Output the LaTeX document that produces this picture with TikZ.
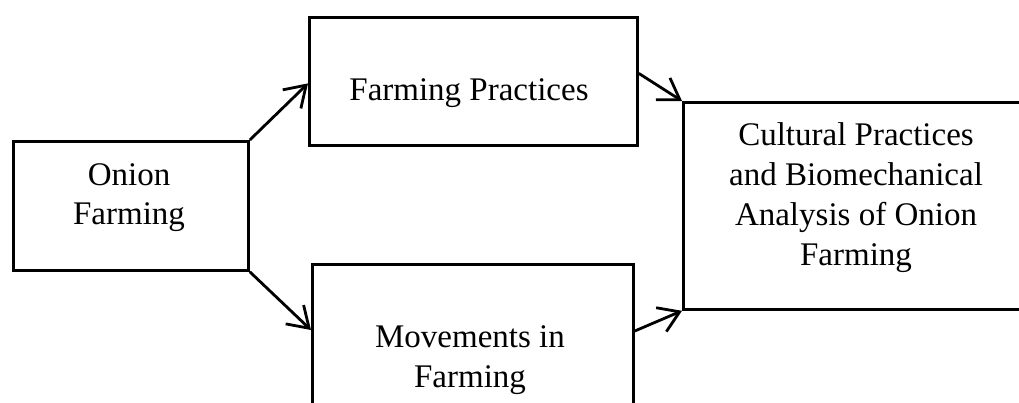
\documentclass[tikz,border=0pt]{standalone}
\usepackage{fontspec}
\setmainfont{Liberation Serif}
\usetikzlibrary{arrows.meta,calc}
\begin{document}
\begin{tikzpicture}[x=1pt,y=-1pt,
  box/.style={draw=black,line width=2.8pt,fill=none,inner sep=0pt,anchor=north west},
  lbl/.style={font=\fontsize{33}{40}\selectfont,align=center,anchor=base,inner sep=0pt},
  conn/.style={line width=2.8pt,-{Straight Barb[length=20pt,width=26pt]}}]
\useasboundingbox (0,0) rectangle (1019,402);
\clip (0,0) rectangle (1019,402);
\fill[white] (0,0) rectangle (1019,402);
% boxes
\node[box,minimum width=235pt,minimum height=129pt] (onion) at (12,140) {};
\node[box,minimum width=328pt,minimum height=128pt] (fp) at (308,16) {};
\node[box,minimum width=321pt,minimum height=160pt] (mv) at (311,263) {};
\node[box,minimum width=350pt,minimum height=207pt] (cp) at (682,101) {};
% texts
\node[lbl] (t1) at (129,185) {Onion};
\node[lbl] (t2) at (129,224) {Farming};
\node[lbl] (t3) at (469,100) {Farming Practices};
\node[lbl] (t4) at (470,347) {Movements in};
\node[lbl] (t5) at (470,387) {Farming};
\node[lbl] (t6) at (856,145) {Cultural Practices};
\node[lbl] (t7) at (856,185) {and Biomechanical};
\node[lbl] (t8) at (856,225) {Analysis of Onion};
\node[lbl] (t9) at (856,265) {Farming};
% connectors
\draw[conn] (onion.north east) -- ([yshift=-2pt]fp.west);
\draw[conn] (onion.south east) -- ([yshift=-67pt]mv.north west);
\draw[conn] ([yshift=8pt]fp.east) -- (cp.north west);
\draw[conn] ([yshift=-68pt]mv.north east) -- (cp.south west);
\end{tikzpicture}
\end{document}
